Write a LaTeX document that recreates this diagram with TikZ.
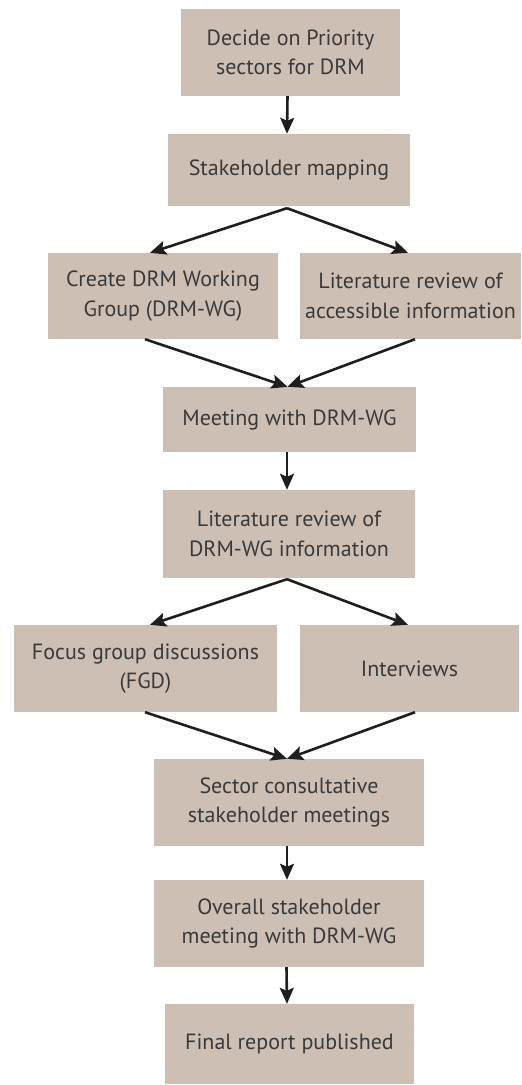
\documentclass[tikz,border=0pt]{standalone}
\usepackage{fontspec}
\setmainfont{PT Sans}
\usetikzlibrary{arrows.meta,calc}
\definecolor{boxfill}{HTML}{CDBFB4}
\definecolor{txt}{HTML}{3A3A3A}
\definecolor{arr}{HTML}{1E1E1E}
\begin{document}
\begin{tikzpicture}[x=1pt,y=-1pt,
  box/.style={rectangle, fill=boxfill, inner sep=0pt, text=txt, align=center,
    font=\fontsize{22}{29.5}\selectfont},
  conn/.style={draw=arr, line width=2.6pt, -{Stealth[length=16pt,width=14pt,inset=3pt]}}]
\useasboundingbox (0,0) rectangle (522,1085);
\node[box, minimum width=219pt, minimum height=87pt] (b1) at (290.5,52.5) {Decide on Priority\\sectors for DRM};
\node[box, minimum width=242pt, minimum height=72pt] (b2) at (289,170) {Stakeholder mapping};
\node[box, minimum width=230pt, minimum height=86pt] (b3L) at (163,296) {Create DRM Working\\Group (DRM-WG)};
\node[box, minimum width=221pt, minimum height=86pt] (b3R) at (410.5,296) {Literature review of\\accessible information};
\node[box, minimum width=253pt, minimum height=65pt] (b4) at (289.5,419.5) {Meeting with DRM-WG};
\node[box, minimum width=252pt, minimum height=88pt] (b5) at (289,534) {Literature review of\\DRM-WG information};
\node[box, minimum width=263pt, minimum height=87pt] (b6L) at (145.5,668.5) {Focus group discussions\\(FGD)};
\node[box, minimum width=219pt, minimum height=87pt] (b6R) at (409.5,668.5) {Interviews};
\node[box, minimum width=270pt, minimum height=87pt] (b7) at (289,802.5) {Sector consultative\\stakeholder meetings};
\node[box, minimum width=270pt, minimum height=87pt] (b8) at (289,923.5) {Overall stakeholder\\meeting with DRM-WG};
\node[box, minimum width=249pt, minimum height=80pt] (b9) at (289.5,1044) {Final report published};

\draw[conn] ([xshift=-3pt]b1.south) -- ([xshift=-2pt]b2.north);
\draw[conn] ([xshift=-2pt,yshift=-2pt]b2.south) -- ([xshift=-13pt]b3L.north);
\draw[conn] ([xshift=-2pt,yshift=-2pt]b2.south) -- ([xshift=-2.5pt]b3R.north);
\draw[conn] ([xshift=-18pt]b3L.south) -- ([xshift=-2pt]b4.north);
\draw[conn] ([xshift=4.5pt]b3R.south) -- ([xshift=-2pt]b4.north);
\draw[conn] ([xshift=-2.5pt]b4.south) -- ([xshift=-2pt]b5.north);
\draw[conn] ([xshift=-2pt,yshift=-1pt]b5.south) -- ([xshift=4.5pt]b6L.north);
\draw[conn] ([xshift=-2pt,yshift=-1pt]b5.south) -- ([xshift=-1.5pt]b6R.north);
\draw[conn] ([xshift=-0.5pt]b6L.south) -- ([xshift=-2pt]b7.north);
\draw[conn] ([xshift=5.5pt]b6R.south) -- ([xshift=-2pt]b7.north);
\draw[conn] ([xshift=-2pt]b7.south) -- ([xshift=-2pt]b8.north);
\draw[conn] ([xshift=-2.5pt]b8.south) -- ([xshift=-2.5pt]b9.north);
\end{tikzpicture}
\end{document}
